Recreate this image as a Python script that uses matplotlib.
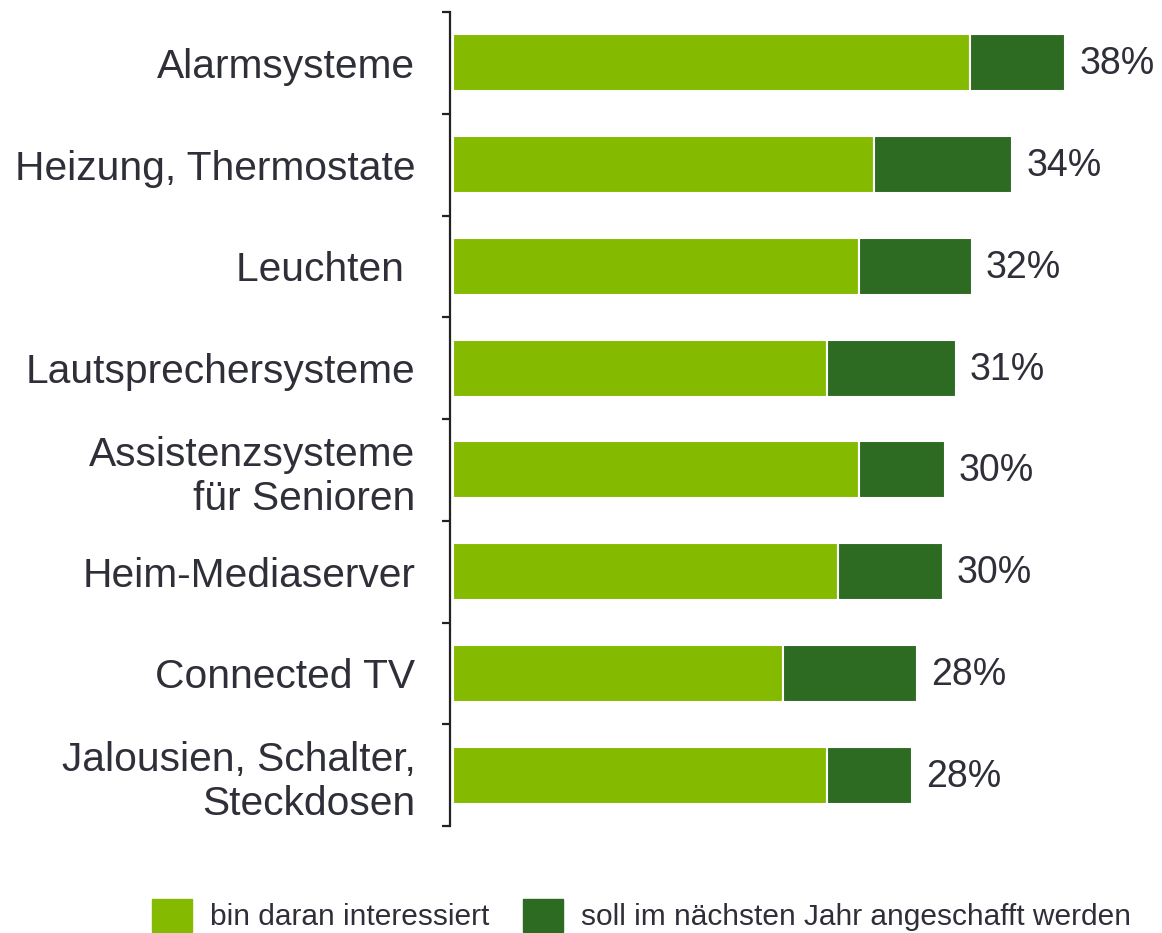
import matplotlib
matplotlib.use("Agg")
import matplotlib.pyplot as plt
from matplotlib.patches import Patch
import numpy as np

categories = ["Alarmsysteme", "Heizung, Thermostate", "Leuchten ", "Lautsprechersysteme",
              "Assistenzsysteme\nfür Senioren", "Heim-Mediaserver", "Connected TV",
              "Jalousien, Schalter,\nSteckdosen"]
interested = [32.1, 26.1, 25.2, 23.2, 25.2, 23.9, 20.5, 23.2]
next_year = [5.9, 8.6, 7.0, 8.0, 5.3, 6.5, 8.3, 5.3]
total_labels = ["38%", "34%", "32%", "31%", "30%", "30%", "28%", "28%"]
series_names = ["bin daran interessiert", "soll im nächsten Jahr angeschafft werden"]

LIGHT = "#84bb00"
DARK = "#2d6b22"
TXT = "#2e2f38"

plt.rcParams['font.family'] = ['Liberation Sans', 'DejaVu Sans']

fig = plt.figure(figsize=(11.62, 9.33), dpi=100)
ax = fig.add_axes([450/1162, 1-826/933, 1-450/1162, 814/933])

y = np.arange(len(categories))
h = 0.56
ax.barh(y, interested, height=h, color=LIGHT, edgecolor="white", linewidth=1.5, left=0)
ax.barh(y, next_year, height=h, left=interested, color=DARK, edgecolor="white", linewidth=1.5)

for yi, a, b, lab in zip(y, interested, next_year, total_labels):
    ax.annotate(lab, xy=(a + b, yi), xytext=(10, -1), textcoords="offset points",
                ha="left", va="center", fontsize=27, color=TXT)

ax.set_xlim(-0.2, 44.0)
ax.set_ylim(len(categories) - 0.5, -0.5)

ax.set_yticks(y)
ax.set_yticklabels(categories, fontsize=29.3, color=TXT, ha="right")
ax.tick_params(axis="y", which="major", length=0, pad=25)
ax.set_yticks(np.arange(-0.5, len(categories), 1.0), minor=True)
ax.tick_params(axis="y", which="minor", length=6, width=1.6, color="#222222", direction="out")
ax.set_xticks([])

for s in ["top", "right", "bottom"]:
    ax.spines[s].set_visible(False)
ax.spines["left"].set_color("#222222")
ax.spines["left"].set_linewidth(1.6)

handles = [Patch(facecolor=LIGHT, edgecolor=LIGHT), Patch(facecolor=DARK, edgecolor=DARK)]
leg = fig.legend(handles, series_names, loc="center", bbox_to_anchor=(0.552, 0.019),
                 ncol=2, frameon=False, fontsize=21.5, handlelength=1.35, handleheight=1.3,
                 handletextpad=0.6, columnspacing=1.1)
for t in leg.get_texts():
    t.set_color(TXT)

fig.savefig("out.png", dpi=100, facecolor="white")
